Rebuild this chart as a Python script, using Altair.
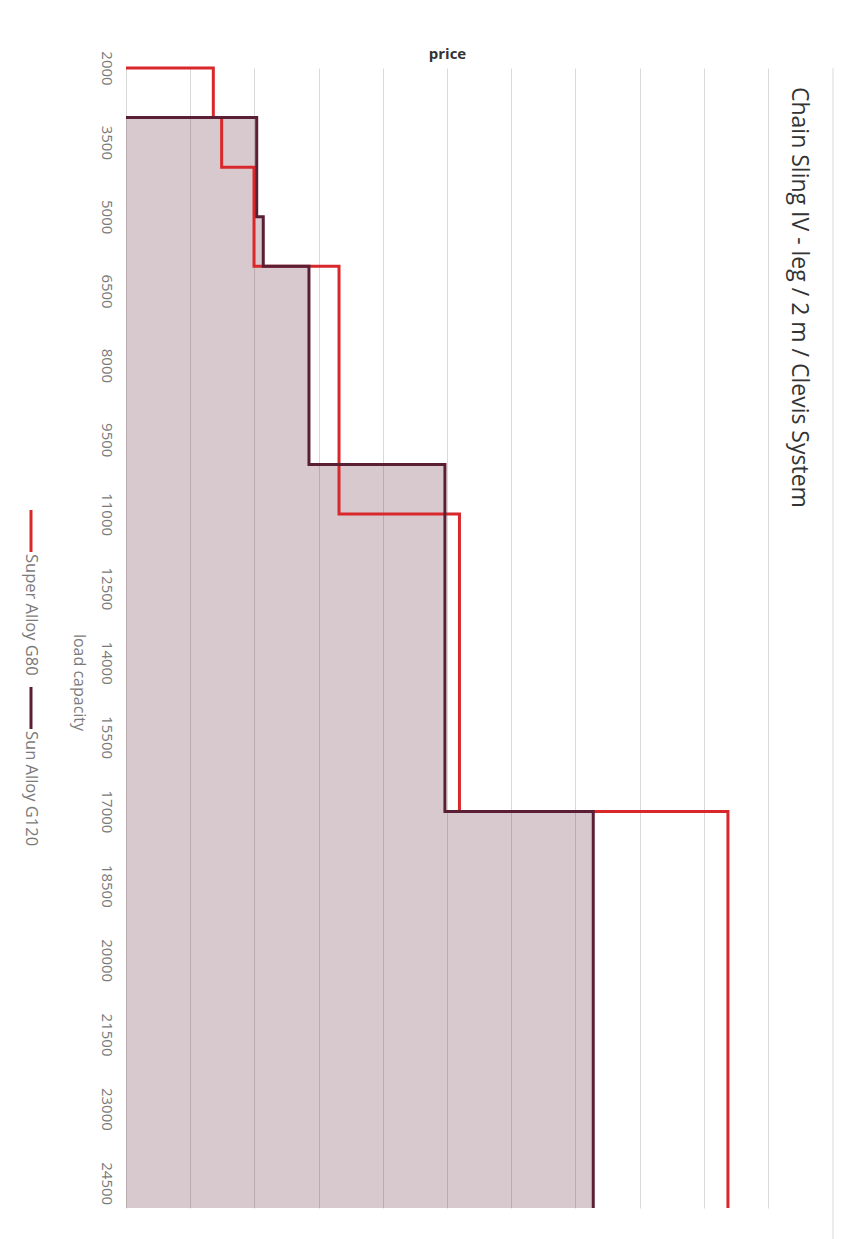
import altair as alt
import pandas as pd

# ---- data ----
TITLE = "Chain Sling IV - leg / 2 m / Clevis System"
load_ticks = [2000, 3500, 5000, 6500, 8000, 9500, 11000, 12500, 14000,
              15500, 17000, 18500, 20000, 21500, 23000, 24500]
load_min, load_max = 2000, 25000
price_grid = [0, 50, 100, 150, 200, 250, 300, 350, 400, 450, 500]

series_names = ["Super Alloy G80", "Sun Alloy G120"]
series_colors = ["#d8282b", "#5a1e35"]

# step starts (load capacity) and the price that holds from that load on
g80_start = [2000, 3000, 4000, 6000, 11000, 17000]
g80_price = [68, 74.5, 99.7, 165.9, 259.7, 468.8]
g120_start = [3000, 5000, 6000, 10000, 17000]
g120_price = [101.8, 106.9, 142.5, 248.4, 363.9]


def step_rows(name, starts, prices, end):
    rows = [dict(series=name, load=starts[0], price=0.0, idx=0)]
    ends = starts[1:] + [end]
    for k, (e, p) in enumerate(zip(ends, prices)):
        rows.append(dict(series=name, load=e, price=p, idx=k + 1))
    return rows


g80 = pd.DataFrame(step_rows(series_names[0], g80_start, g80_price, load_max))
g120 = pd.DataFrame(step_rows(series_names[1], g120_start, g120_price, load_max))

FONT = "Open Sans"
W, H = 642, 1140
OX, OY = 126, 68  # plot offset inside the 850x1239 page

xscale = alt.Scale(domain=[0, 500], nice=False, zero=True)
yscale = alt.Scale(domain=[load_min, load_max], reverse=True, nice=False, zero=False)
cscale = alt.Scale(domain=series_names, range=series_colors)

xaxis = alt.Axis(orient="top", values=price_grid, labels=False, ticks=False,
                 domain=False, grid=True, gridColor="#d9d9d9", gridWidth=1,
                 title="price", titleFont=FONT, titleFontSize=15,
                 titleFontWeight="bold", titleColor="#333333",
                 titleX=W / 2, titleY=-10, titleBaseline="alphabetic",
                 titleAlign="center")
yaxis = alt.Axis(values=load_ticks, format="d", labelAngle=90,
                 labelAlign="center", labelBaseline="middle", labelPadding=20,
                 tickSize=0, ticks=False, domain=False, grid=False,
                 labelFont=FONT, labelFontSize=15, labelColor="#7a7a7a",
                 title="load capacity", titleFont=FONT, titleFontSize=16,
                 titleFontWeight="normal", titleColor="#7a7a7a",
                 titleAngle=90, titleX=-48, titleY=614,
                 titleAlign="center", titleBaseline="middle")

area = alt.Chart(g120).mark_area(
    orient="horizontal", interpolate="step-after",
    color=series_colors[1], opacity=0.24
).encode(
    x=alt.X("price:Q", scale=xscale, axis=xaxis),
    y=alt.Y("load:Q", scale=yscale, axis=yaxis),
)

line_red = alt.Chart(g80).mark_line(interpolate="step-after", strokeWidth=3).encode(
    x=alt.X("price:Q", scale=xscale),
    y=alt.Y("load:Q", scale=yscale),
    color=alt.Color("series:N", scale=cscale, legend=None),
    order="idx:Q",
)
line_dark = alt.Chart(g120).mark_line(interpolate="step-after", strokeWidth=3).encode(
    x=alt.X("price:Q", scale=xscale),
    y=alt.Y("load:Q", scale=yscale),
    color=alt.Color("series:N", scale=cscale, legend=None),
    order="idx:Q",
)

one = pd.DataFrame({"t": [TITLE]})
title = alt.Chart(one).mark_text(
    angle=90, align="left", baseline="middle", font=FONT, fontSize=23,
    color="#333333"
).encode(x=alt.value(799 - OX), y=alt.value(87 - OY), text="t:N")

# legend (rotated, drawn by hand)
leg_items = []
for name, color, y0 in zip(series_names, series_colors, [510, 687]):
    d = pd.DataFrame({"t": [name]})
    leg_items.append(
        alt.Chart(d).mark_rule(color=color, strokeWidth=3).encode(
            x=alt.value(31 - OX), y=alt.value(y0 - OY), y2=alt.value(y0 + 42 - OY))
    )
    leg_items.append(
        alt.Chart(d).mark_text(angle=90, align="left", baseline="middle",
                               font=FONT, fontSize=16.5, color="#7a7a7a").encode(
            x=alt.value(31 - OX), y=alt.value(y0 + 44 - OY), text="t:N")
    )

border = alt.Chart(one).mark_rule(color="#d9d9d9", strokeWidth=1).encode(
    x=alt.value(833 - OX), y=alt.value(0), y2=alt.value(1239 - OY))

frame = alt.Chart(one).mark_rect(opacity=0).encode(
    x=alt.value(-OX), x2=alt.value(850 - OX), y=alt.value(-OY), y2=alt.value(1239 - OY))

chart = alt.layer(
    frame, area, line_red, line_dark, title, border, *leg_items
).properties(
    width=W, height=H, padding=0, background="white"
).configure_view(stroke=None)

chart.save("out.html", embed_options={"renderer": "svg", "actions": False})
